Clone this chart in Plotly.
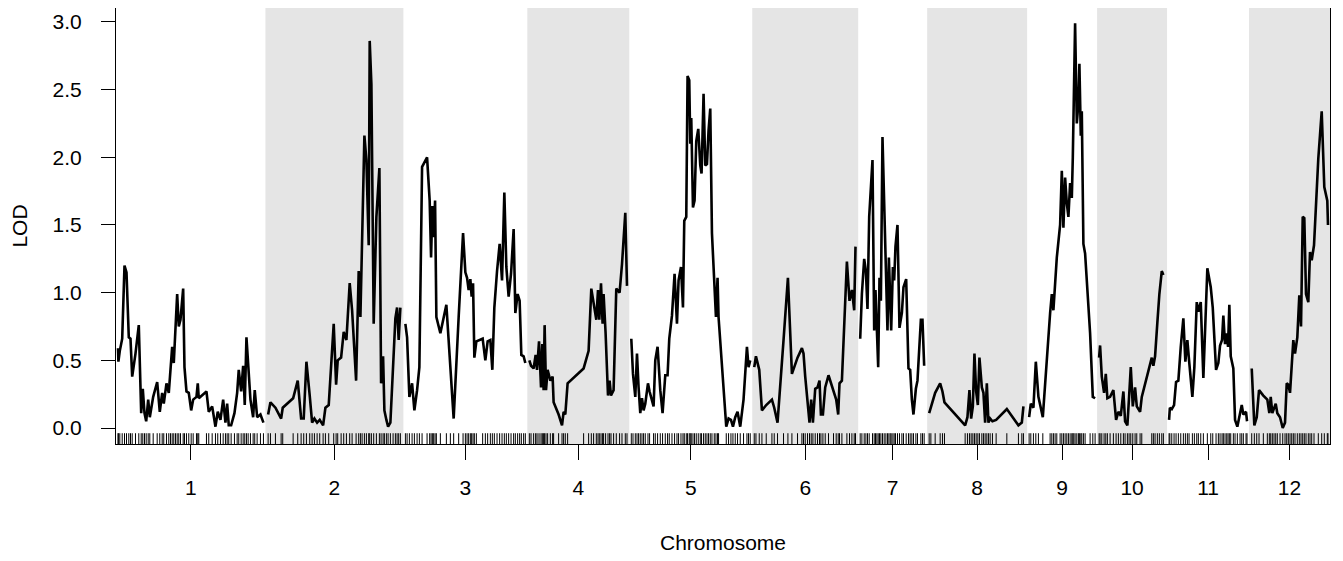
import plotly.graph_objects as go

chrom_names = ["1", "2", "3", "4", "5", "6", "7", "8", "9", "10", "11", "12"]
chrom_len = [145.5, 134, 120, 98, 119, 102, 65, 96, 66, 66, 78, 77]
gap = 4

pos1 = [0, 0.4, 1.8, 4.2, 6.5, 8.5, 10.8, 12.5, 14.2, 17.5, 20.8, 23.2, 24.8, 26.5, 28.2, 30.2, 31.8, 35.2, 39.2, 41.8,
        44.2, 45.8, 48.5, 50.8, 52.5, 54.2, 55.8, 57.5, 59.2, 60.8, 62.5, 65.2, 66.5, 68.5, 70.8, 73.2, 75.2, 78.5, 79.8,
        80.8, 88.5, 90.8, 94.2, 97.5, 99.8, 102.5, 105.2, 107.5, 109.2, 110.8, 113.2, 116.5, 119.2, 120.8, 123.2, 125.2,
        126.8, 128.5, 130.2, 132.5, 135.2, 136.8, 139.2, 142.5, 145.5]
lod1 = [0.59, 0.49, 0.57, 0.66, 1.20, 1.15, 0.67, 0.66, 0.38, 0.55, 0.76, 0.11, 0.29, 0.11, 0.05, 0.21, 0.08, 0.23, 0.34,
        0.12, 0.26, 0.18, 0.33, 0.26, 0.43, 0.60, 0.48, 0.70, 0.99, 0.75, 0.80, 1.03, 0.45, 0.27, 0.26, 0.13, 0.21, 0.23,
        0.33, 0.22, 0.27, 0.12, 0.16, 0.01, 0.12, 0.06, 0.21, 0.04, 0.18, 0.02, 0.02, 0.11, 0.26, 0.43, 0.27, 0.46, 0.17,
        0.67, 0.45, 0.21, 0.08, 0.28, 0.08, 0.10, 0.04]

pos2 = [0.7, 3, 8, 13.7, 15.3, 25.7, 30.3, 33.7, 36.3, 39, 42.3, 44.7, 47, 49.7, 52.3, 55.7, 58, 61.3, 66.3, 68.7,
        70.3, 73.7, 76.3, 79, 82.3, 84.7, 88.7, 91.3, 93, 94.7, 97, 99, 101.3, 102.3, 104, 106.3, 109, 112, 113.7, 115.7,
        117, 119, 120.7, 123, 125.7, 128, 129.7, 131.3, 133]
lod2 = [0.10, 0.19, 0.15, 0.07, 0.15, 0.22, 0.35, 0.07, 0.07, 0.49, 0.24, 0.04, 0.07, 0.04, 0.06, 0.02, 0.15, 0.17, 0.77,
        0.32, 0.50, 0.52, 0.71, 0.65, 1.07, 0.87, 0.35, 1.16, 0.82, 1.34, 2.16, 1.98, 1.35, 2.86, 2.54, 0.77, 1.56, 1.92,
        0.33, 0.53, 0.13, 0.06, 0.01, 0.04, 0.48, 0.81, 0.89, 0.65, 0.89]

pos3 = [0, 1.7, 4, 6.7, 9, 11.7, 14, 16.7, 21.7, 24.3, 25.7, 27, 28.3, 29.7, 31, 35, 41, 45, 48.3, 53.3,
        57.7, 60, 61.7, 63.3, 65, 66.3, 67.7, 69, 71, 77.3, 80, 82.3, 85, 87, 89, 91.7, 94.3, 96.7, 99, 101,
        103.3, 105.7, 108.3, 110, 112.3, 114.3, 116, 118.3, 120]
lod3 = [0.77, 0.67, 0.23, 0.33, 0.13, 0.28, 0.45, 1.93, 2.00, 1.68, 1.26, 1.64, 1.41, 1.68, 0.82, 0.70, 0.91, 0.45, 0.07,
        0.82, 1.44, 1.15, 1.11, 1.02, 1.10, 0.97, 1.07, 0.52, 0.64, 0.66, 0.50, 0.64, 0.65, 0.43, 0.89, 1.16, 1.36, 1.09,
        1.74, 1.19, 0.97, 1.14, 1.47, 0.85, 0.99, 0.94, 0.54, 0.53, 0.48]

pos4 = [0, 1.7, 4.3, 6.3, 7.7, 9.7, 11.7, 13, 14.3, 15.3, 16.7, 18.3, 21, 23.3, 24.3, 29.3, 32.7, 34.3, 36, 38.3,
        54.3, 59.3, 62, 64.3, 67, 68.7, 70, 71.7, 73.3, 74.3, 76.3, 78.7, 80.3, 81.7, 84.3, 87, 90.3, 92.7, 96, 97.7]
lod4 = [0.50, 0.46, 0.44, 0.54, 0.43, 0.64, 0.30, 0.62, 0.28, 0.76, 0.28, 0.43, 0.35, 0.38, 0.19, 0.10, 0.02, 0.12, 0.10,
        0.33, 0.44, 0.57, 1.03, 0.92, 0.80, 1.02, 0.80, 1.07, 0.77, 0.99, 0.70, 0.24, 0.35, 0.24, 0.28, 1.03, 1.00, 1.21,
        1.59, 1.05]

pos5 = [0, 1.7, 4, 5.7, 7.3, 9, 10.7, 12.3, 14, 16.7, 18.3, 22.3, 24, 26.3, 29, 31.3, 34, 36.3, 38, 40.7,
        43.3, 45.7, 47.3, 49.7, 51.7, 53, 55, 56.3, 58, 59, 60, 61.7, 63.3, 65, 67, 69, 70.3, 72.3, 74, 75.7,
        77.3, 79, 80.7, 83, 84.7, 86.3, 87.3, 95, 97.3, 99.7, 101.7, 104, 106.3, 109, 112.3, 115.7, 117.3, 119]
lod5 = [0.66, 0.40, 0.23, 0.55, 0.30, 0.11, 0.22, 0.13, 0.18, 0.33, 0.27, 0.16, 0.50, 0.60, 0.28, 0.11, 0.39, 0.39, 0.66,
        0.83, 1.14, 0.77, 1.09, 1.19, 0.89, 1.53, 1.56, 2.60, 2.57, 2.10, 2.29, 1.63, 1.68, 2.12, 2.21, 1.94, 1.88, 2.47,
        1.94, 1.95, 2.20, 2.36, 1.44, 1.11, 0.82, 1.11, 0.82, 0.01, 0.07, 0.06, 0.01, 0.08, 0.12, 0.01, 0.21, 0.60, 0.45,
        0.50]

pos6 = [0, 1.7, 5, 7.7, 12, 17.7, 20, 23.3, 29.3, 33.7, 37.7, 43.3, 47.7, 49.3, 51, 53.3, 55.3, 57, 58.7, 61,
        63.3, 65.3, 66.7, 68.7, 71, 74.3, 79.3, 82, 84, 85.3, 87.7, 92.7, 95.3, 97.7, 100, 101.3]
lod6 = [0.45, 0.53, 0.43, 0.13, 0.17, 0.21, 0.15, 0.04, 0.65, 1.11, 0.40, 0.52, 0.59, 0.55, 0.38, 0.21, 0.04, 0.21, 0.04,
        0.29, 0.30, 0.35, 0.10, 0.10, 0.30, 0.39, 0.26, 0.21, 0.10, 0.33, 0.35, 1.23, 0.94, 1.02, 0.87, 1.34]

pos7 = [0, 1.7, 4, 5.7, 7.3, 9, 12.3, 14, 15.3, 16.7, 18, 19.3, 20.7, 22.3, 24, 25.7, 27.3, 28.7, 30, 31,
        32.7, 34, 35.3, 37.3, 39.3, 41.7, 43.3, 46, 48.3, 50, 51.7, 53.3, 55.7, 57.3, 60.7, 62.3, 64]
lod7 = [0.66, 0.99, 1.25, 1.16, 0.88, 1.56, 1.98, 0.72, 1.02, 0.67, 0.45, 1.11, 0.94, 2.15, 1.68, 1.04, 0.72, 1.26, 0.99,
        0.72, 1.19, 1.09, 1.34, 1.50, 0.74, 0.85, 1.04, 1.10, 0.44, 0.43, 0.21, 0.10, 0.29, 0.35, 0.80, 0.80, 0.46]

pos8 = [0, 1.7, 6, 11, 13.3, 15.3, 36, 38.3, 40.3, 42, 43.7, 45.3, 47, 48.7, 50.3, 52.7, 54.3, 56, 57.7, 59.3,
        61, 63.3, 67, 77.7, 89.3, 92.7, 94.3]
lod8 = [0.11, 0.15, 0.26, 0.33, 0.27, 0.19, 0.02, 0.08, 0.28, 0.07, 0.16, 0.55, 0.27, 0.17, 0.52, 0.30, 0.26, 0.04, 0.33,
        0.04, 0.07, 0.05, 0.06, 0.14, 0.02, 0.04, 0.16]

pos9 = [0, 1.7, 4.3, 6.7, 9.3, 13.7, 21, 22.7, 24.3, 26, 27.7, 31, 32.7, 34.3, 36, 37.7, 39.3, 41, 42.7, 43.7,
        44.7, 46, 47.7, 49.3, 50.3, 51.7, 52.7, 54.3, 56, 61, 63.7, 66]
lod9 = [0.08, 0.18, 0.15, 0.49, 0.23, 0.08, 0.85, 0.99, 0.87, 1.11, 1.26, 1.50, 1.90, 1.48, 1.85, 1.66, 1.56, 1.81, 1.70,
        2.00, 2.40, 2.99, 2.25, 2.40, 2.69, 2.16, 2.34, 1.36, 1.29, 0.70, 0.23, 0.22]

pos10 = [0, 1, 2.7, 5, 6.7, 8.3, 11, 14.3, 17, 19.3, 21.7, 24.3, 26, 28.3, 30, 31.7, 33.7, 36, 37.7, 41,
         42.7, 52.7, 54.3, 56, 58.3, 60.3, 62.7, 64.3]
lod10 = [0.52, 0.61, 0.38, 0.26, 0.40, 0.22, 0.23, 0.28, 0.06, 0.12, 0.09, 0.27, 0.05, 0.02, 0.23, 0.45, 0.16, 0.30,
         0.16, 0.12, 0.23, 0.52, 0.46, 0.53, 0.78, 0.99, 1.16, 1.13]

pos11 = [0, 0.8, 2.7, 5, 7, 9.3, 11.7, 14.3, 16.3, 18.3, 20, 23.3, 25.3, 27.7, 29.3, 31.7, 34.3, 38.3, 41.7, 43.7,
         47, 49.3, 51, 53, 54.3, 56, 57.7, 59, 60.3, 61.7, 64.3, 66, 68.3, 71, 72.7, 74.3, 77, 78]
lod11 = [0.06, 0.15, 0.14, 0.17, 0.34, 0.35, 0.60, 0.81, 0.49, 0.65, 0.50, 0.23, 0.45, 0.93, 0.86, 0.93, 0.37, 1.18,
         1.04, 0.89, 0.43, 0.48, 0.61, 0.65, 0.83, 0.62, 0.70, 0.60, 0.91, 0.53, 0.44, 0.06, 0.01, 0.11, 0.17, 0.10,
         0.12, 0.05]

pos12 = [0.7, 3.3, 5.7, 8, 12.3, 16.3, 18.3, 19.7, 21.3, 23, 24.7, 26.3, 29, 31.7, 34, 35.7, 37.3, 39, 40.7, 42.3,
         44, 46.3, 48.3, 50, 51.7, 53.3, 55, 57.3, 59, 60.7, 63, 67.3, 70.7, 73.3, 76.3, 77]
lod12 = [0.44, 0.02, 0.08, 0.28, 0.24, 0.21, 0.11, 0.23, 0.11, 0.15, 0.18, 0.11, 0.08, 0.00, 0.04, 0.33, 0.32, 0.26,
         0.44, 0.65, 0.55, 0.67, 0.98, 0.75, 1.56, 1.55, 0.99, 0.93, 1.30, 1.24, 1.35, 1.99, 2.34, 1.78, 1.68, 1.50]

positions = [pos1, pos2, pos3, pos4, pos5, pos6, pos7, pos8, pos9, pos10, pos11, pos12]
lods = [lod1, lod2, lod3, lod4, lod5, lod6, lod7, lod8, lod9, lod10, lod11, lod12]

y_ticks = [0.0, 0.5, 1.0, 1.5, 2.0, 2.5, 3.0]

# chromosome offsets on the genome-wide axis
starts = []
acc = 0.0
for L in chrom_len:
    starts.append(acc + gap / 2)
    acc += L + gap
total = acc
centers = [s + L / 2 for s, L in zip(starts, chrom_len)]

xs, ys, rug = [], [], []
for s, p, l in zip(starts, positions, lods):
    for pp, ll in zip(p, l):
        xs.append(s + pp)
        ys.append(ll)
        rug.append(s + pp)
    xs.append(None)
    ys.append(None)

fig = go.Figure()

shapes = []
for i, (s, L) in enumerate(zip(starts, chrom_len)):
    if i % 2 == 1:
        shapes.append(dict(type="rect", xref="x", yref="paper", x0=s - gap / 2, x1=s + L + gap / 2,
                           y0=0, y1=1, fillcolor="#E5E5E5", line=dict(width=0), layer="below"))

fig.add_trace(go.Scatter(x=xs, y=ys, mode="lines", line=dict(color="black", width=2.6),
                         connectgaps=False, hoverinfo="skip", showlegend=False))
fig.add_trace(go.Scatter(x=rug, y=[-0.085] * len(rug), mode="markers",
                         marker=dict(symbol="line-ns", size=9, line=dict(color="black", width=1)),
                         hoverinfo="skip", showlegend=False))

font = dict(family="Liberation Sans, Arial, Helvetica, sans-serif", size=21, color="black")

fig.update_layout(
    width=1343, height=561,
    margin=dict(l=108, r=21, t=0, b=125),
    paper_bgcolor="white", plot_bgcolor="white",
    font=font,
    shapes=shapes,
    showlegend=False,
)
fig.update_xaxes(range=[0, total], tickvals=centers, ticktext=chrom_names,
                 ticks="outside", ticklen=15, tickwidth=1, tickcolor="black",
                 showline=True, linecolor="black", linewidth=1, mirror=True,
                 showgrid=False, zeroline=False, ticklabelstandoff=10,
                 title=dict(text="Chromosome", font=font, standoff=37))
fig.update_yaxes(range=[-0.118, 3.103], tickvals=y_ticks, tickformat=".1f",
                 ticks="outside", ticklen=14, tickwidth=1, tickcolor="black",
                 showline=True, linecolor="black", linewidth=1, mirror=True,
                 showgrid=False, zeroline=False, ticklabelstandoff=15,
                 title=dict(text="LOD", font=font, standoff=22))

fig.write_html("out.html")
